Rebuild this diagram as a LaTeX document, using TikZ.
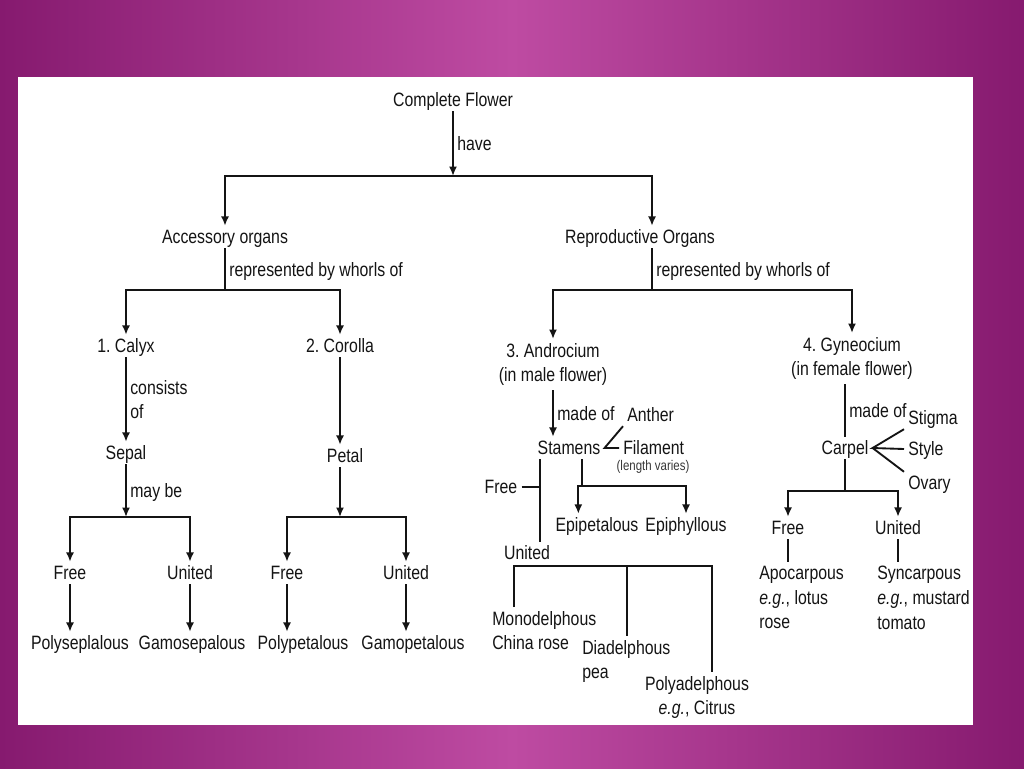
\documentclass[tikz,border=0pt]{standalone}
\usepackage{fontspec}
\setmainfont{Liberation Sans}[FakeStretch=0.82]
\usetikzlibrary{arrows.meta,positioning}
\definecolor{ink}{HTML}{141414}
\definecolor{plumdark}{HTML}{861A6F}
\definecolor{plumlight}{HTML}{BE4BA2}
\frenchspacing

\begin{document}
\begin{tikzpicture}[
  x=0.75pt,y=-0.75pt,
  txt/.style={font=\fontsize{14.5}{18.5}\selectfont,text=ink,inner sep=3pt,text height=10.4pt,text depth=0pt},
  multi/.style={font=\fontsize{14.5}{18.5}\selectfont,text=ink,inner sep=3pt},
  lab/.style={txt,right,inner sep=2.5pt},
  tiny/.style={font=\fontsize{10.5}{12}\selectfont,text=ink!85,inner sep=1pt},
  wire/.style={draw=ink,line width=1.4pt},
  arrow/.style={wire,-{Latex[length=7pt,width=6pt]}}
]
\useasboundingbox (0,0) rectangle (1024,768);
\shade[left color=plumdark,right color=plumdark,middle color=plumlight] (0,0) rectangle (1024,768);
\fill[white] (18,77) rectangle (973,725);

% top levels
\node[txt] (flower) at (453,100) {Complete Flower};
\node[txt] (acc) at (225,237) {Accessory organs};
\node[txt] (rep) at (640,237) {Reproductive Organs};
\coordinate (j1) at (453,176);
\coordinate (j2) at (225,290);
\coordinate (j5) at (652,290);

% accessory organs
\node[txt] (calyx) at (126,346) {1. Calyx};
\node[txt] (corolla) at (340,346) {2. Corolla};
\node[txt] (sepal) at (126,453) {Sepal};
\node[txt] (petal) at (345,456) {Petal};
\coordinate (j3) at (126,517);
\coordinate (j4) at (340,517);
\node[txt] (free1) at (70,573) {Free};
\node[txt] (united1) at (190,573) {United};
\node[txt] (free2) at (287,573) {Free};
\node[txt] (united2) at (406,573) {United};
\node[txt] (polysep) at (80,643) {Polyseplalous};
\node[txt] (gamosep) at (192,643) {Gamosepalous};
\node[txt] (polypet) at (303,643) {Polypetalous};
\node[txt] (gamopet) at (413,643) {Gamopetalous};

% androcium
\node[multi,align=center,anchor=north] (andro) at (553,339) {3. Androcium\\(in male flower)};
\node[txt] (stamens) at (569,448) {Stamens};
\node[txt,anchor=west] (anther) at (623,415) {Anther};
\node[txt,anchor=west] (filament) at (619,448) {Filament};
\node[tiny] (varies) at (653,467) {(length varies)};
\node[txt] (free3) at (501,487) {Free};
\node[txt] (united3) at (527,553) {United};
\node[txt] (epipet) at (597,525) {Epipetalous};
\node[txt] (epiphyl) at (686,525) {Epiphyllous};
\node[multi,align=left,anchor=north west] (mono) at (488,607) {Monodelphous\\China rose};
\node[multi,align=left,anchor=north west] (dia) at (578,636) {Diadelphous\\pea};
\node[multi,align=center,anchor=north] (poly) at (697,672) {Polyadelphous\\\textit{e.g.}, Citrus};
\coordinate (fj) at (540,487);
\coordinate (j6) at (582,486);
\coordinate (ub1) at (514,566);
\coordinate (ub2) at (627,566);
\coordinate (ub3) at (712,566);

% gyneocium
\node[multi,align=center,anchor=north] (gyno) at (852,333) {4. Gyneocium\\(in female flower)};
\node[txt] (carpel) at (845,448) {Carpel};
\node[txt,anchor=west] (stigma) at (904,418) {Stigma};
\node[txt,anchor=west] (styl) at (904,449) {Style};
\node[txt,anchor=west] (ovary) at (904,483) {Ovary};
\coordinate (j8) at (845,491);
\node[txt] (free4) at (788,528) {Free};
\node[txt] (united4) at (898,528) {United};
\node[multi,align=left,anchor=north west] (apo) at (755,562) {Apocarpous\\\textit{e.g.}, lotus\\rose};
\node[multi,align=left,anchor=north west] (syn) at (873,562) {Syncarpous\\\textit{e.g.}, mustard\\tomato};

% connectors
\draw[arrow] (flower) -- node[lab] (lhave) {have} (j1);
\draw[arrow] (j1) -| (acc);
\draw[arrow] (j1) -| ([xshift=9pt]rep.north);
\draw[wire] (acc) -- node[lab] (lwhorl1) {represented by whorls of} (j2);
\draw[wire] ([xshift=9pt]rep.south) -- node[lab] (lwhorl2) {represented by whorls of} (j5);
\draw[arrow] (j2) -| (calyx);
\draw[arrow] (j2) -| (corolla);
\draw[arrow] (calyx) -- node[multi,right,align=left,inner sep=2.5pt] (lcons) {consists\\of} (sepal);
\draw[arrow] (corolla) -- (corolla |- petal.north);
\draw[arrow] (sepal) -- node[lab] (lmay) {may be} (j3);
\draw[arrow] (corolla |- petal.south) -- (j4);
\foreach \j/\a/\b in {j3/free1/united1,j4/free2/united2} {
  \draw[arrow] (\j) -| (\a);
  \draw[arrow] (\j) -| (\b);
}
\foreach \a/\b in {free1/polysep,united1/gamosep,free2/polypet,united2/gamopet}
  \draw[arrow] (\a) -- (\a |- \b.north);

\draw[arrow] (j5) -| (andro);
\draw[arrow] (j5) -| (gyno);
\draw[arrow] (andro) -- node[lab] (lmade1) {made of} (andro |- stamens.north);
\draw[wire] (anther.south west) -- (stamens.east) -- (filament.west);
\draw[wire] (stamens.south -| fj) -- (united3.north -| fj);
\draw[wire] (free3) -- (fj);
\draw[wire] ([xshift=9.75pt]stamens.south) -- (j6);
\draw[arrow] (j6) -| ([xshift=-14pt]epipet.north);
\draw[arrow] (j6) -| (epiphyl);
\draw[wire] (mono.north -| ub1) -- (ub1) -- (ub3) -- (poly.north -| ub3);
\draw[wire] (ub2) -- (dia.north -| ub2);

\draw[wire] (carpel |- gyno.south) -- node[lab] (lmade2) {made of} (carpel);
\draw[wire] (stigma.south west) -- (carpel.east) -- (styl.west);
\draw[wire] (ovary.north west) -- (carpel.east);
\draw[wire] (carpel) -- (j8);
\draw[arrow] (j8) -| (free4);
\draw[arrow] (j8) -| (united4);
\draw[wire] (free4) -- (free4 |- apo.north);
\draw[wire] (united4) -- (united4 |- syn.north);
\end{tikzpicture}
\end{document}
